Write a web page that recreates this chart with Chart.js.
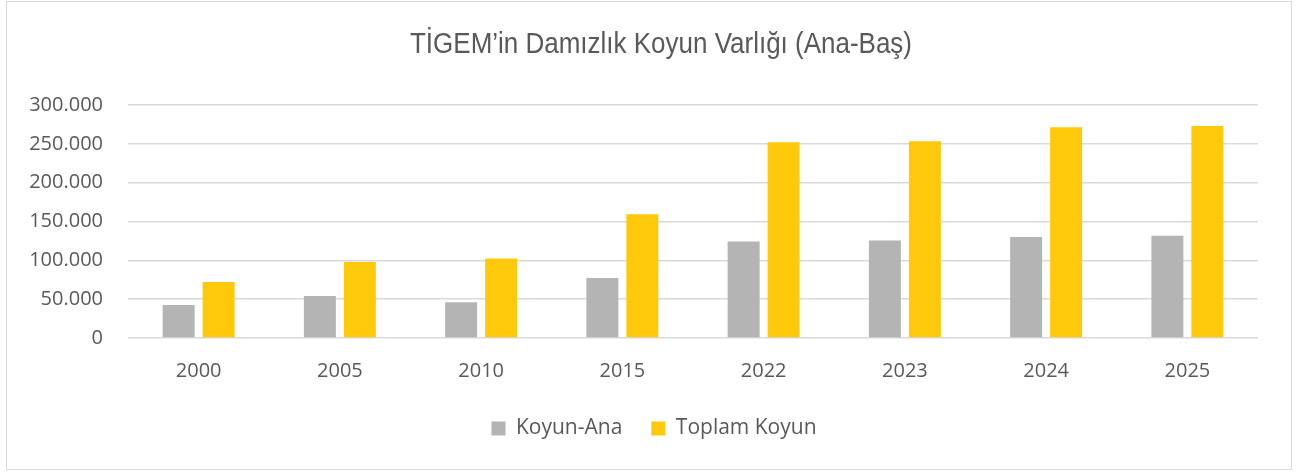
<!DOCTYPE html>
<html>
<head>
<meta charset="utf-8">
<script src="https://cdn.jsdelivr.net/npm/chart.js@4/dist/chart.umd.min.js"></script>
<style>
  html, body { margin: 0; padding: 0; background: #fff; }
  #wrap { width: 1296px; height: 473px; }
</style>
</head>
<body>
<div id="wrap"><canvas id="chart" width="1296" height="473"></canvas></div>
<script>
// ---- data ----
const years = ['2000', '2005', '2010', '2015', '2022', '2023', '2024', '2025'];
const koyunAna = [42400, 54000, 45900, 77100, 124300, 125600, 129900, 131500];
const toplamKoyun = [72000, 97700, 102500, 159400, 252000, 253300, 271300, 273000];
const yTicks = [0, 50000, 100000, 150000, 200000, 250000, 300000];
const chartTitle = 'TİGEM’in Damızlık Koyun Varlığı (Ana-Baş)';

const textGray = '#595959';
const labelFont = '"Open Sans", "DejaVu Sans", sans-serif';

// 50000 -> "50.000"
function trNumber(v) {
  return String(v).replace(/\B(?=(\d{3})+(?!\d))/g, '.');
}

// frame + narrow title (the reference uses a condensed Arial-like face)
const decorPlugin = {
  id: 'decor',
  afterLayout(chart) {
    // legend in the reference sits a bit right of the canvas centre
    if (chart.legend) chart.legend.left = 50;
  },
  afterDraw(chart) {
    const ctx = chart.ctx;
    ctx.save();
    ctx.strokeStyle = '#d9d9d9';
    ctx.lineWidth = 1;
    ctx.strokeRect(6.5, 1.5, 1285, 468);

    ctx.font = '30px "Liberation Sans", Arial, sans-serif';
    ctx.fillStyle = textGray;
    ctx.textAlign = 'center';
    ctx.textBaseline = 'alphabetic';
    const w = ctx.measureText(chartTitle).width;
    const sx = 502 / w;
    ctx.translate(661, 53);
    ctx.scale(sx, 1);
    ctx.fillText(chartTitle, 0, 0);
    ctx.restore();
  }
};

new Chart(document.getElementById('chart'), {
  type: 'bar',
  data: {
    labels: years,
    datasets: [
      { label: 'Koyun-Ana', data: koyunAna, backgroundColor: '#b4b4b4' },
      { label: 'Toplam Koyun', data: toplamKoyun, backgroundColor: '#ffc90b' }
    ]
  },
  options: {
    responsive: false,
    animation: false,
    devicePixelRatio: 1,
    layout: { padding: { top: 105, left: 0, right: 38, bottom: 24 } },
    datasets: {
      bar: { categoryPercentage: 0.566, barPercentage: 0.8 }
    },
    plugins: {
      title: { display: false },
      legend: {
        position: 'bottom',
        labels: {
          color: textGray,
          font: { family: labelFont, size: 21 },
          boxWidth: 14,
          boxHeight: 14,
          padding: 29
        }
      },
      tooltip: { enabled: false }
    },
    scales: {
      x: {
        grid: { display: false, drawTicks: false },
        border: { display: false },
        ticks: { color: textGray, font: { family: labelFont, size: 20 }, padding: 21 },
        afterFit(scale) { scale.height = 51; }
      },
      y: {
        min: 0,
        max: 300000,
        afterBuildTicks(scale) { scale.ticks = yTicks.map(v => ({ value: v })); },
        grid: { color: '#d9d9d9', lineWidth: 1.5, drawTicks: false },
        border: { display: false },
        ticks: {
          color: textGray,
          font: { family: labelFont, size: 20 },
          padding: 25,
          callback: v => trNumber(v)
        },
        afterFit(scale) { scale.width = 128; }
      }
    }
  },
  plugins: [decorPlugin]
});
</script>
</body>
</html>
